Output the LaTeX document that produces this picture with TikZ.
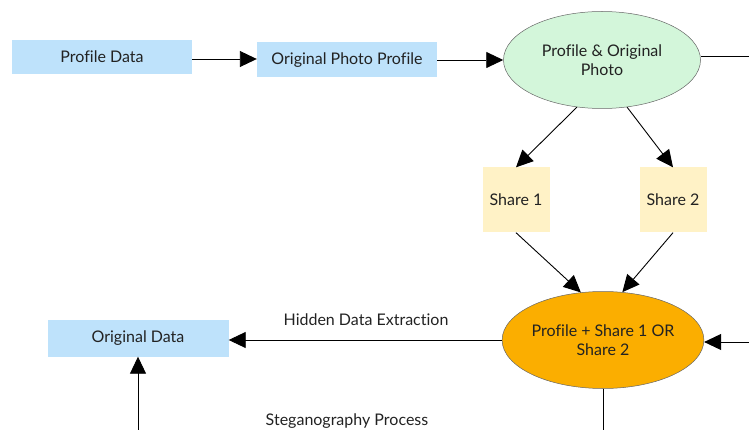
\documentclass[tikz,border=0pt]{standalone}
\usepackage{fontspec}
\setmainfont[Ligatures=NoCommon]{Lato}
\usetikzlibrary{arrows.meta,shapes.geometric}
\definecolor{boxblue}{HTML}{BEE2FB}
\definecolor{mint}{HTML}{D3F6DA}
\definecolor{paleyellow}{HTML}{FFF2C6}
\definecolor{amber}{HTML}{FBAE00}
\definecolor{txt}{HTML}{222222}
\begin{document}
\begin{tikzpicture}[x=1pt,y=-1pt,
  every node/.style={font=\fontsize{16}{19}\selectfont, text=txt},
  bluebox/.style={fill=boxblue, minimum height=34pt, inner sep=0pt},
  sharebox/.style={fill=paleyellow, minimum width=67pt, minimum height=65pt, inner sep=0pt},
  oval/.style={ellipse, draw=black!60, line width=0.5pt, minimum width=197pt, minimum height=97pt, inner sep=0pt, align=center},
  conn/.style={draw=black, line width=0.9pt},
  arr/.style={conn, -{Triangle[length=17pt,width=16pt]}}
]
\useasboundingbox (0,0) rectangle (749,430);
\node[bluebox, minimum width=180pt] (pd) at (102,57) {Profile Data};
\node[bluebox, minimum width=180pt, minimum height=35pt] (opp) at (347,60) {Original Photo Profile};
\node[oval, fill=mint] (po) at (602,60) {Profile \& Original\\Photo};
\node[sharebox] (s1) at (516,200) {Share 1};
\node[sharebox] (s2) at (673,200) {Share 2};
\node[oval, fill=amber] (ps) at (603,340) {Profile + Share 1 OR\\Share 2};
\node[bluebox, minimum width=181pt, minimum height=37pt] (od) at (138,338) {Original Data};
\node (lbl1) at (366,320) {Hidden Data Extraction};
\node (lbl2) at (347,421) {Steganography Process};
\coordinate (e1) at (749,56);
\coordinate (e2) at (749,342);
\coordinate (b1) at (138,430);
\coordinate (b2) at (603,430);
\coordinate (j1) at (192,59);

\draw[arr] (j1) -- (j1 -| opp.west);
\draw[arr] (opp.east) -- (po.west);
\draw[conn] (e1 -| po.east) -- (e1);
\draw[arr] (po.-118) -- (s1.north);
\draw[arr] (po.-62) -- (s2.north);
\draw[arr] (s1.south) -- (ps.115);
\draw[arr] (s2.south) -- (ps.68);
\draw[arr] (e2) -- (e2 -| ps.east);
\draw[arr] (ps.west) -- (ps.west -| od.east);
\draw[arr] (b1) -- (od.south);
\draw[conn] (ps.south) -- (b2);
\end{tikzpicture}
\end{document}
